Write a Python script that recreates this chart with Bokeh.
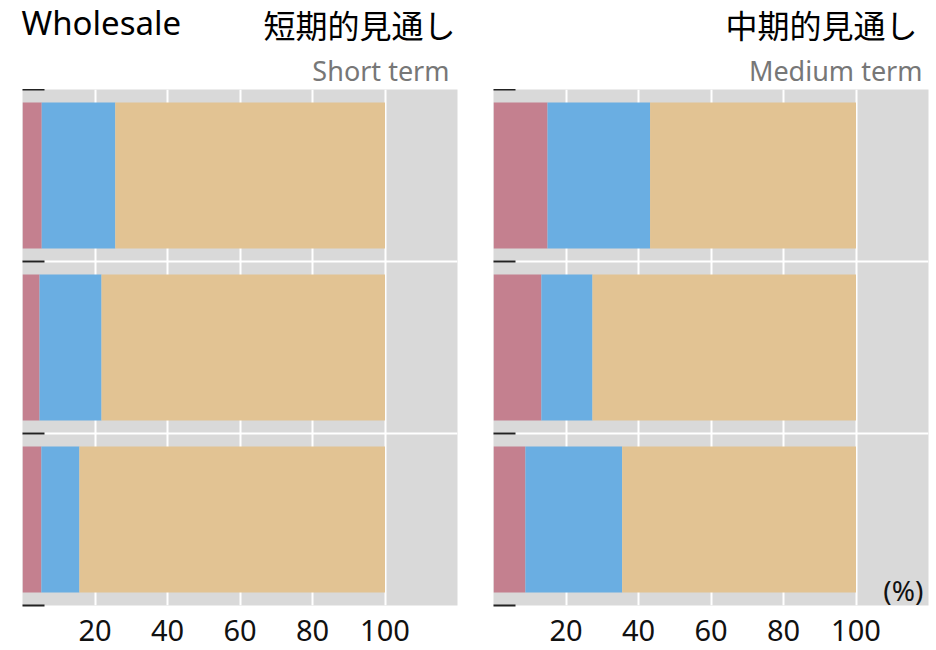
from bokeh.plotting import figure
from bokeh.models import ColumnDataSource, FixedTicker, Label, Range1d
from bokeh.layouts import row, column
from bokeh.core.properties import value
from bokeh.embed import file_html
from bokeh.resources import INLINE

# ---- data ----
rows = ["row1", "row2", "row3"]
segments = ["red", "blue", "tan"]
short_red = [5.3, 4.7, 5.2]
short_blue = [20.3, 17.1, 10.5]
short_tan = [74.4, 78.2, 84.3]
medium_red = [14.9, 13.2, 8.8]
medium_blue = [28.3, 14.1, 26.7]
medium_tan = [56.8, 72.7, 64.5]
x_ticks = [20, 40, 60, 80, 100]
title_left = "Wholesale"
short_jp, short_en = "短期的見通し", "Short term"
medium_jp, medium_en = "中期的見通し", "Medium term"
unit_label = "(%)"

COLORS = ["#C4808F", "#6AAEE2", "#E2C393"]
LATIN = "Noto Sans"
CJK = "Noto Sans CJK JP"
TOTAL_W = 931
HEAD_H = 89


def panel(red, blue, tan, border_left, border_right, unit=None):
    n = len(rows)
    p = figure(frame_width=435, frame_height=516,
               x_range=Range1d(0, 120), y_range=Range1d(0, n),
               output_backend="svg", toolbar_location=None,
               min_border_left=border_left, min_border_right=border_right,
               min_border_top=0, min_border_bottom=44,
               background_fill_color="#D9D9D9", border_fill_color="white",
               outline_line_color=None)
    ypos = [n - 0.5 - i for i in range(n)]
    src = ColumnDataSource(dict(y=ypos, red=red, blue=blue, tan=tan))
    p.hbar_stack(segments, y="y", height=0.85, fill_color=COLORS,
                 line_color=None, source=src)

    xa = p.xaxis[0]
    xa.ticker = FixedTicker(ticks=x_ticks)
    xa.axis_line_color = None
    xa.major_tick_in = 0
    xa.major_tick_out = 0
    xa.minor_tick_line_color = None
    xa.major_label_standoff = 14
    xa.major_label_text_font = LATIN
    xa.major_label_text_font_size = "29px"
    xa.major_label_text_color = "#111111"

    ya = p.yaxis[0]
    ya.ticker = FixedTicker(ticks=list(range(n + 1)))
    ya.axis_line_color = None
    ya.major_tick_in = 22
    ya.major_tick_out = 0
    ya.major_tick_line_width = 2
    ya.major_tick_line_color = "#222222"
    ya.minor_tick_line_color = None
    ya.major_label_overrides = {i: "" for i in range(n + 1)}
    ya.major_label_standoff = 0

    p.xgrid.ticker = FixedTicker(ticks=x_ticks)
    p.xgrid.grid_line_color = "white"
    p.xgrid.grid_line_width = 2
    p.ygrid.ticker = FixedTicker(ticks=list(range(1, n)))
    p.ygrid.grid_line_color = "white"
    p.ygrid.grid_line_width = 2

    if unit:
        p.add_layout(Label(x=118.6, y=0.09, text=unit, text_font=LATIN,
                           text_font_size="28px", text_color="#111111",
                           text_align="right", text_baseline="middle"))
    return p


# header with the titles (pixel coordinates, y pointing down)
head = figure(width=TOTAL_W, height=HEAD_H, x_range=Range1d(0, TOTAL_W),
              y_range=Range1d(HEAD_H, 0), output_backend="svg",
              toolbar_location=None, min_border=0, outline_line_color=None,
              background_fill_color="white", border_fill_color="white")
head.axis.visible = False
head.grid.visible = False
head.text(x=[21], y=[22], text=[title_left], text_font=value(LATIN),
          text_font_size="33px", text_color="black", text_align="left",
          text_baseline="alphabetic")
head.text(x=[455, 917], y=[23, 23], text=[short_jp, medium_jp],
          text_font=value(CJK), text_font_size="32px", text_color="black",
          text_align="right", text_baseline="middle")
head.text(x=[449, 922], y=[70, 70], text=[short_en, medium_en],
          text_font=value(LATIN), text_font_size="27px", text_color="#777777",
          text_align="right", text_baseline="alphabetic")

p1 = panel(short_red, short_blue, short_tan, 22, 11)
p2 = panel(medium_red, medium_blue, medium_tan, 25, 3, unit=unit_label)
layout = column(head, row(p1, p2))

open("out.html", "w").write(file_html(layout, INLINE))
